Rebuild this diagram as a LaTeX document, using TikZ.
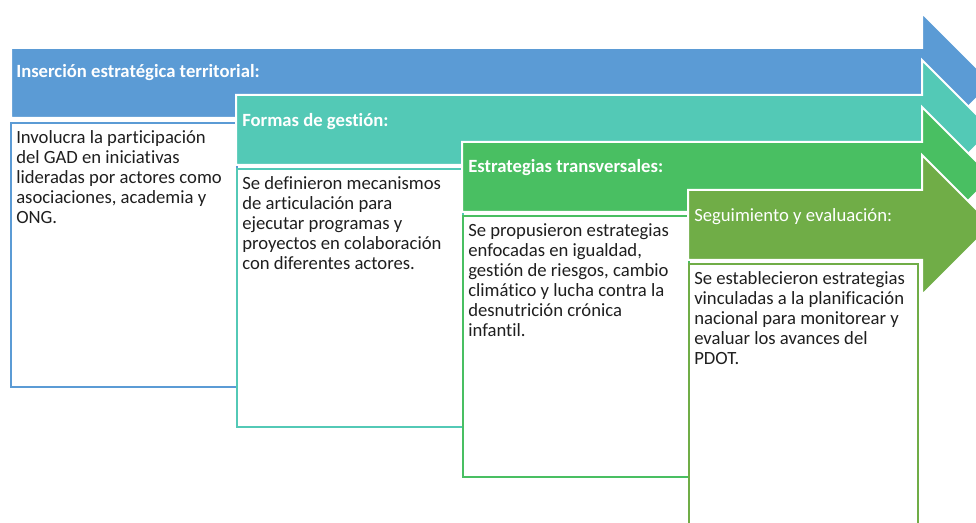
\documentclass[tikz,border=0pt]{standalone}
\usepackage{fontspec}
\setmainfont{Carlito}[Ligatures=NoCommon]
\usetikzlibrary{positioning}
\definecolor{insBlue}{HTML}{5B9BD5}
\definecolor{gesTeal}{HTML}{53C9B6}
\definecolor{traGreen}{HTML}{49BF62}
\definecolor{segOlive}{HTML}{70AD47}
\tikzset{
  band/.style ={draw=white, line width=1.5pt},
  hdr/.style  ={anchor=west, inner sep=0pt, text=white,
                font=\fontsize{14}{15}\selectfont\bfseries},
  card/.style ={draw, fill=white, line width=1.5pt, anchor=north west,
                inner sep=0pt, minimum width=169.5pt},
  body/.style ={anchor=north west, inner sep=0pt, align=left, text=black!88,
                font=\fontsize{14}{15}\selectfont},
}
% colour, left end, top of the band (pixel units)
\newcommand{\stepband}[3]{%
  \path[band, fill=#1] (#2,#3) -- (922,#3) -- (922,#3-35) -- (992,#3+35)
    -- (922,#3+105) -- (922,#3+70) -- (#2,#3+70) -- cycle;}

\begin{document}
\begin{tikzpicture}[x=0.75pt, y=-0.75pt]
  \useasboundingbox (0,0) rectangle (976,523);
  \clip (0,0) rectangle (976,523);

  % --- step 1 ---------------------------------------------------------
  \stepband{insBlue}{11}{48}
  \node[card, draw=insBlue, minimum height=198pt] (cardIns) at (10,122) {};
  \node[hdr] (hdrIns) at (16,73) {Inserción estratégica territorial:};
  \node[body, below right=6.5pt and 4.5pt of cardIns.north west] (txtIns)
        {Involucra la participación\\ del GAD en iniciativas\\
         lideradas por actores como\\ asociaciones, academia y\\ ONG.};

  % --- step 2 ---------------------------------------------------------
  \stepband{gesTeal}{236}{95}
  \node[card, draw=gesTeal, minimum height=193.5pt] (cardGes) at (236,168) {};
  \node[hdr] (hdrGes) at (242,122) {Formas de gestión:};
  \node[body, below right=6.5pt and 4.5pt of cardGes.north west] (txtGes)
        {Se definieron mecanismos\\ de articulación para\\
         ejecutar programas y\\ proyectos en colaboración\\ con diferentes actores.};

  % --- step 3 ---------------------------------------------------------
  \stepband{traGreen}{462}{142}
  \node[card, draw=traGreen, minimum height=195.75pt] (cardTra) at (462,215) {};
  \node[hdr] (hdrTra) at (468,168) {Estrategias transversales:};
  \node[body, below right=6.5pt and 4.5pt of cardTra.north west] (txtTra)
        {Se propusieron estrategias\\ enfocadas en igualdad,\\
         gestión de riesgos, cambio\\ climático y lucha contra la\\
         desnutrición crónica\\ infantil.};

  % --- step 4 ---------------------------------------------------------
  \stepband{segOlive}{688}{190}
  \node[card, draw=segOlive, minimum width=171.75pt, minimum height=208pt]
        (cardSeg) at (688,263) {};
  \node[hdr, font=\fontsize{14}{15}\selectfont] (hdrSeg) at (694,217)
        {Seguimiento y evaluación:};
  \node[body, below right=6.5pt and 4.5pt of cardSeg.north west] (txtSeg)
        {Se establecieron estrategias\\ vinculadas a la planificación\\
         nacional para monitorear y\\ evaluar los avances del\\ PDOT.};
\end{tikzpicture}
\end{document}
